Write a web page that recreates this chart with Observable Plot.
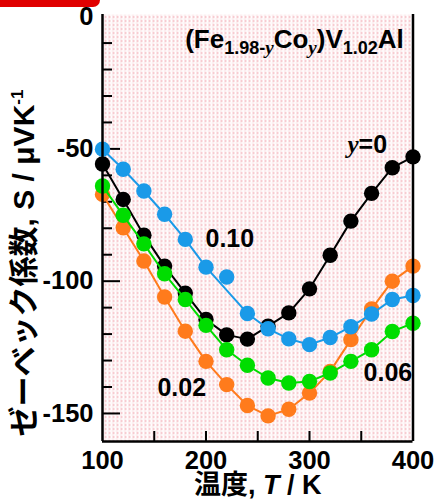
<!DOCTYPE html>
<html><head><meta charset="utf-8">
<script src="https://cdn.jsdelivr.net/npm/d3@7"></script>
<script src="https://cdn.jsdelivr.net/npm/@observablehq/plot@0.6"></script>
<style>
body{margin:0;background:#fff;}
#wrap{position:relative;width:436px;height:500px;}
#bar{position:absolute;left:0;top:0;width:100px;height:7px;background:#e00000;border-bottom-right-radius:8px;z-index:2;}
</style></head><body><div id="wrap"><div id="bar"></div></div>
<script>
// ---- data ----
const temps = [100,120,140,160,180,200,220,240,260,280,300,320,340,360,380,400];
const s_y000 = [-55.7,-69.1,-82.6,-94.3,-104.5,-114.5,-120.3,-121.9,-117,-112,-102.9,-90.2,-77.3,-66.8,-57.1,-53];
const s_y002 = [-67.2,-79.8,-92.4,-106,-118.9,-130.3,-139.1,-147,-150.9,-148.4,-142.3,-134.1,-122.1,-110.5,-100,-94.3];
const s_y006 = [-64,-75.1,-85.9,-97.2,-106.9,-116.7,-125.9,-131.8,-136.6,-138.5,-137.9,-134.7,-130.3,-125.9,-119,-115.9];
const s_y010 = [-50.1,-57.7,-65.9,-74.7,-84.2,-94.7,-98.4,-112.2,-118,-121.8,-124,-121.3,-117.2,-112.4,-106.9,-105.4];
const seriesNames = ["0","0.02","0.06","0.10"];
const seriesValues = [s_y000, s_y002, s_y006, s_y010];
const seriesColors = ["#000000","#ff7b1c","#00dd00","#1a9ae8"];
// temperatures that the drawn guide curve does not pass through
const offCurve = [[],[],[],[220]];
const xTicks = [100,200,300,400];
const xMinorTicks = [150,200,250,300,350];
const yTicks = [0,-50,-100,-150];
const yMajorTicks = [-50,-100,-150];
const yMinorTicks = [-10,-20,-30,-40,-60,-70,-80,-90,-110,-120,-130,-140];
const xDomain = [100,400];
const yDomain = [-160.6,0.8];
const titleNote = [{T:285.5, S:-8.9, text:"(Fe1.98-yCoy)V1.02Al"}];
const seriesNotes = [
  {T:336.7, S:-48.7, text:"y=0"},
  {T:199.5, S:-83.9, text:"0.10"},
  {T:153.1, S:-140.2, text:"0.02"},
  {T:352.2, S:-134.6, text:"0.06"}
];
const xTitle = "温度, T / K";
const yTitle = "ゼーベック係数, S / μVK-1";
const rich = {
  "(Fe1.98-yCoy)V1.02Al": '(Fe<tspan dy="6" font-size="18">1.98-</tspan><tspan font-size="19" font-family="Liberation Serif" font-style="italic">y</tspan><tspan dy="-6">Co</tspan><tspan dy="6" font-size="19" font-family="Liberation Serif" font-style="italic">y</tspan><tspan dy="-6">)V</tspan><tspan dy="6" font-size="18">1.02</tspan><tspan dy="-6">Al</tspan>',
  "y=0": '<tspan font-family="Liberation Serif" font-style="italic">y</tspan>=0',
  "温度, T / K": '温度, <tspan font-style="italic">T</tspan> / K',
  "ゼーベック係数, S / μVK-1": 'ゼーベック係数, S / μVK<tspan dy="-11" font-size="17">-1</tspan>'
};

// ---- build ----
const W = 436, H = 500, mL = 102, mR = 23.5, mT = 14, mB = 59;
const plotW = W - mL - mR, plotH = H - mT - mB;
const rows = [];
seriesNames.forEach((name, i) => temps.forEach((t, j) => rows.push({T: t, S: seriesValues[i][j], series: name, onCurve: !offCurve[i].includes(t)})));

const seriesMarks = [];
seriesNames.forEach((name, i) => {
  const d = rows.filter(r => r.series === name);
  seriesMarks.push(Plot.line(d.filter(r => r.onCurve), {x: "T", y: "S", stroke: seriesColors[i], strokeWidth: 2}));
  seriesMarks.push(Plot.dot(d, {x: "T", y: "S", r: 7.7, fill: seriesColors[i], stroke: "none"}));
});

const fontFam = "'Liberation Sans', Arial, 'Noto Sans CJK JP', sans-serif";
const plot = Plot.plot({
  width: W, height: H,
  marginLeft: mL, marginRight: mR, marginTop: mT, marginBottom: mB,
  x: {domain: xDomain},
  y: {domain: yDomain},
  style: {fontFamily: fontFam, fontWeight: "bold", fontSize: "25px", color: "#000", background: "transparent", overflow: "visible"},
  marks: [
    Plot.frame({fill: "url(#pinkgrid)", stroke: "none"}),
    Plot.tickY(yMinorTicks, {y: d => d, stroke: "#000", strokeWidth: 2, insetRight: plotW - 10}),
    Plot.tickY(yMajorTicks, {y: d => d, stroke: "#000", strokeWidth: 2, insetRight: plotW - 18}),
    Plot.tickX(xMinorTicks, {x: d => d, stroke: "#000", strokeWidth: 2, insetTop: plotH - 10}),
    ...seriesMarks,
    Plot.ruleX(xDomain, {stroke: "#000", strokeWidth: 2.5}),
    Plot.ruleY([yDomain[0]], {stroke: "#000", strokeWidth: 2.5}),
    Plot.axisX({ticks: xTicks, tickSize: 0, tickPadding: 9, tickFormat: d => String(d), fontSize: 25.5, fontWeight: "bold", label: null}),
    Plot.axisY({ticks: yTicks, tickSize: 0, tickPadding: 9, tickFormat: d => String(d), fontSize: 25.5, fontWeight: "bold", label: null}),
    Plot.text(titleNote, {x: "T", y: "S", text: "text", textAnchor: "middle", lineAnchor: "middle", fontSize: 26, fontWeight: "bold", fill: "#000"}),
    Plot.text(seriesNotes, {x: "T", y: "S", text: "text", textAnchor: "start", lineAnchor: "middle", fontSize: 25, fontWeight: "bold", fill: "#000"}),
    Plot.text([xTitle], {text: d => d, frameAnchor: "bottom", textAnchor: "middle", lineAnchor: "middle", dy: 44, fontSize: 27, fontWeight: "bold", fill: "#000"}),
    Plot.text([yTitle], {text: d => d, frameAnchor: "left", textAnchor: "middle", lineAnchor: "middle", dx: -78, dy: 35, rotate: -90, fontSize: 30, fontWeight: "bold", fill: "#000"})
  ]
});

// pattern for the dotted pink background
const svg = d3.select(plot);
const pat = svg.insert("defs", ":first-child").append("pattern")
  .attr("id", "pinkgrid").attr("patternUnits", "userSpaceOnUse")
  .attr("width", 4).attr("height", 4);
pat.append("rect").attr("width", 4).attr("height", 4).attr("fill", "#fff");
pat.append("rect").attr("x", 0).attr("y", 0).attr("width", 2).attr("height", 1).attr("fill", "#ef98a3");
pat.append("rect").attr("x", 0).attr("y", 2).attr("width", 1).attr("height", 1).attr("fill", "#f4b9c0");
pat.append("rect").attr("x", 2).attr("y", 2).attr("width", 1).attr("height", 1).attr("fill", "#fbe4e7");

svg.selectAll("text").each(function() {
  const t = this.textContent;
  if (rich[t]) this.innerHTML = rich[t];
});

document.getElementById("wrap").appendChild(plot);
</script>
</body></html>
